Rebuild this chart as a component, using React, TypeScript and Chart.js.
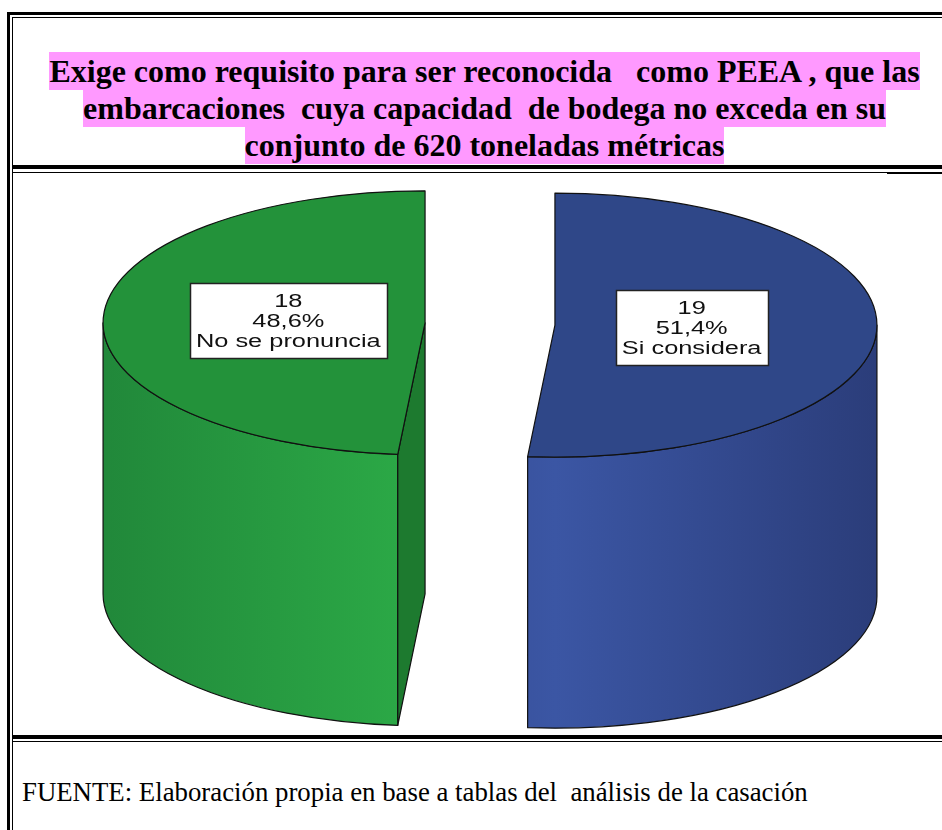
import React, { useEffect, useRef } from 'react';
import { Chart, registerables } from 'chart.js';

Chart.register(...registerables);

// ---- data ----
const categories = ['Si considera', 'No se pronuncia'];
const counts = [19, 18];
const topColors = ['#2F4788', '#23923A'];
const wallDark = ['#2B3D7A', '#21883A'];
const wallLight = ['#3B56A4', '#2CAB47'];
const faceColors = ['#22356B', '#1D7A2F'];
const titleLines = [
  'Exige como requisito para ser reconocida   como PEEA , que las',
  'embarcaciones  cuya capacidad  de bodega no exceda en su',
  'conjunto de 620 toneladas métricas',
];
const sourceNote = 'FUENTE: Elaboración propia en base a tablas del  análisis de la casación';

// ---- 3D look ----
const TILT = 0.41;
const DEPTH = 271;
const LABEL_K = 0.425;
const TEXT_STRETCH = 1.45;

const pie3d = {
  id: 'pie3d',
  beforeDatasetsDraw(chart: any) {
    const ctx: CanvasRenderingContext2D = chart.ctx;
    const meta = chart.getDatasetMeta(0);
    const values: number[] = chart.data.datasets[0].data;
    const labels: string[] = chart.data.labels;
    const total = values.reduce((a, b) => a + b, 0);
    const centers: { cx: number; cy: number; r: number; ry: number; mid: number }[] = [];

    meta.data.forEach((arc: any, i: number) => {
      const s = arc.startAngle, e = arc.endAngle, r = arc.outerRadius;
      const off = (arc.options && arc.options.offset) || 0;
      const mid = (s + e) / 2;
      const cx = arc.x + Math.cos(mid) * off;
      const cy = arc.y + Math.sin(mid) * off * TILT;
      const ry = r * TILT;
      centers.push({ cx, cy, r, ry, mid });

      ctx.save();
      ctx.lineJoin = 'round';
      // outer wall (front half only)
      for (const k of [-1, 0, 1]) {
        const a = Math.max(s, k * 2 * Math.PI);
        const b = Math.min(e, k * 2 * Math.PI + Math.PI);
        if (b <= a) continue;
        const g = ctx.createLinearGradient(cx - r, 0, cx + r, 0);
        g.addColorStop(0, wallDark[i]);
        g.addColorStop(0.5, wallLight[i]);
        g.addColorStop(1, wallDark[i]);
        ctx.beginPath();
        ctx.ellipse(cx, cy, r, ry, 0, a, b, false);
        ctx.lineTo(cx + r * Math.cos(b), cy + ry * Math.sin(b) + DEPTH);
        ctx.ellipse(cx, cy + DEPTH, r, ry, 0, b, a, true);
        ctx.closePath();
        ctx.fillStyle = g;
        ctx.fill();
        ctx.strokeStyle = '#111';
        ctx.lineWidth = 1.2;
        ctx.stroke();
      }
      // radial faces
      const faces: [number, number][] = [[s, -Math.cos(s)], [e, Math.cos(e)]];
      for (const [phi, vis] of faces) {
        if (vis <= 0.01) continue;
        const px = cx + r * Math.cos(phi), py = cy + ry * Math.sin(phi);
        ctx.beginPath();
        ctx.moveTo(cx, cy);
        ctx.lineTo(px, py);
        ctx.lineTo(px, py + DEPTH);
        ctx.lineTo(cx, cy + DEPTH);
        ctx.closePath();
        ctx.fillStyle = faceColors[i];
        ctx.fill();
        ctx.strokeStyle = '#111';
        ctx.lineWidth = 1.2;
        ctx.stroke();
      }
      // top surface
      ctx.beginPath();
      ctx.moveTo(cx, cy);
      ctx.ellipse(cx, cy, r, ry, 0, s, e, false);
      ctx.closePath();
      ctx.fillStyle = topColors[i];
      ctx.fill();
      ctx.strokeStyle = '#111';
      ctx.lineWidth = 1.2;
      ctx.stroke();
      ctx.restore();
    });

    // labels
    centers.forEach((c, i) => {
      const pct = ((values[i] / total) * 100).toFixed(1).replace('.', ',') + '%';
      const lines = [String(values[i]), pct, labels[i]];
      ctx.save();
      ctx.font = '17.5px "Liberation Sans", Arial, sans-serif';
      const tw = Math.max(...lines.map((l) => ctx.measureText(l).width)) * TEXT_STRETCH;
      const bw = tw + 12;
      const bh = 75;
      const bx = c.cx + LABEL_K * c.r * Math.cos(c.mid);
      const by = c.cy + LABEL_K * c.ry * Math.sin(c.mid);
      ctx.fillStyle = '#ffffff';
      ctx.fillRect(Math.round(bx - bw / 2) + 0.5, Math.round(by - bh / 2) + 0.5, Math.round(bw), bh);
      ctx.strokeStyle = '#222';
      ctx.lineWidth = 1.5;
      ctx.strokeRect(Math.round(bx - bw / 2) + 0.5, Math.round(by - bh / 2) + 0.5, Math.round(bw), bh);
      ctx.fillStyle = '#111';
      ctx.textAlign = 'center';
      ctx.textBaseline = 'alphabetic';
      const offs = [-13.5, 6.5, 26.5];
      lines.forEach((l, j) => {
        ctx.save();
        ctx.translate(bx, by + offs[j]);
        ctx.scale(TEXT_STRETCH, 1);
        ctx.fillText(l, 0, 0);
        ctx.restore();
      });
      ctx.restore();
    });
    return false;
  },
};

function PieChart() {
  const ref = useRef<HTMLCanvasElement | null>(null);
  useEffect(() => {
    if (!ref.current) return;
    const chart = new Chart(ref.current, {
      type: 'pie',
      data: {
        labels: categories,
        datasets: [
          {
            data: counts,
            backgroundColor: topColors,
            offset: 65,
            borderWidth: 0,
          },
        ],
      },
      options: {
        responsive: false,
        animation: false,
        events: [],
        radius: 322,
        layout: { padding: { left: 8, right: 0, top: 0, bottom: 260 } },
        plugins: {
          legend: { display: false },
          tooltip: { enabled: false },
          title: { display: false },
        },
      } as any,
      plugins: [pie3d as any],
    });
    return () => chart.destroy();
  }, []);
  return (
    <canvas
      ref={ref}
      width={802}
      height={562}
      style={{ position: 'absolute', left: 85, top: 173, width: 802, height: 562 }}
    />
  );
}

const line = (l: number, t: number, w: number, h: number) => (
  <div style={{ position: 'absolute', left: l, top: t, width: w, height: h, background: '#000' }} />
);

export default function App() {
  return (
    <div
      style={{
        position: 'fixed',
        left: 0,
        top: 0,
        width: 942,
        height: 830,
        overflow: 'hidden',
        background: '#fff',
      }}
    >
      {/* table borders */}
      {line(7, 12, 960, 3)}
      {line(12, 17, 960, 1)}
      {line(7, 12, 3, 830)}
      {line(12, 17, 1, 830)}
      {line(12, 165, 960, 4)}
      {line(12, 172, 960, 1)}
      {line(887, 172, 60, 2)}
      {line(12, 735, 960, 4)}
      {line(12, 741, 960, 1)}

      {/* title */}
      <div
        style={{
          position: 'absolute',
          left: 13,
          top: 53,
          width: 943,
          textAlign: 'center',
          fontFamily: '"Liberation Serif", "Times New Roman", serif',
          fontWeight: 'bold',
          fontSize: 32,
          lineHeight: '37px',
          color: '#000',
          whiteSpace: 'pre',
        }}
      >
        {titleLines.map((t, i) => (
          <React.Fragment key={i}>
            <span style={{ background: '#FF99FF', padding: '1px 0' }}>{t}</span>
            {i < titleLines.length - 1 ? <br /> : null}
          </React.Fragment>
        ))}
      </div>

      <PieChart />

      {/* footer */}
      <div
        style={{
          position: 'absolute',
          left: 22,
          top: 777,
          fontFamily: '"Liberation Serif", "Times New Roman", serif',
          fontSize: 26.8,
          lineHeight: '30px',
          color: '#000',
          whiteSpace: 'pre',
        }}
      >
        {sourceNote}
      </div>
    </div>
  );
}
